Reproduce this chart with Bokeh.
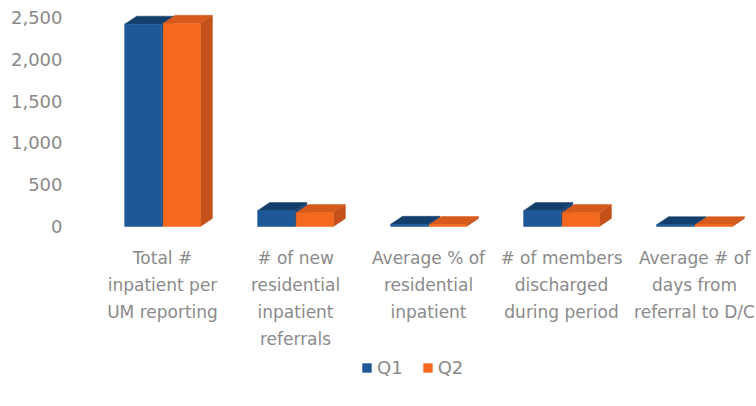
import numpy as np
from bokeh.plotting import figure
from bokeh.models import (Range1d, FixedTicker, Legend, LegendItem,
                          ColumnDataSource, NumeralTickFormatter)
from bokeh.embed import file_html
from bokeh.resources import INLINE

# ---------------- data ----------------
categories = [
    "Total #\ninpatient per\nUM reporting",
    "# of new\nresidential\ninpatient\nreferrals",
    "Average % of\nresidential\ninpatient",
    "# of members\ndischarged\nduring period",
    "Average # of\ndays from\nreferral to D/C",
]
series_names = ["Q1", "Q2"]
q1_values = [2420, 190, 26, 190, 22]
q2_values = [2430, 166, 24, 166, 22]
y_ticks = [0, 500, 1000, 1500, 2000, 2500]

# ---------------- style ----------------
FONT = "DejaVu Sans"
TXT = "#8a8a8a"
front_cols = ["#1F5896", "#F5691E"]
top_cols = ["#143F6C", "#D65A1C"]
side_cols = ["#17467A", "#C4511A"]
bar_w = 0.28
gap = 0.01
depth_x = 0.09
depth_y = 96

# frame reaches down to the bottom so the category labels and the legend
# can sit inside it; the value axis only shows 0..2500
p = figure(width=756, height=406, output_backend="svg", toolbar_location=None,
           x_range=Range1d(-0.692, 4.466), y_range=Range1d(-2081, 2560),
           min_border_left=70, min_border_right=0, min_border_top=12,
           min_border_bottom=6)
p.outline_line_color = None
p.grid.visible = False
p.background_fill_color = "white"
p.border_fill_color = "white"

x = np.arange(len(categories))
front_renderers = []
for i, vals in enumerate([q1_values, q2_values]):
    v = np.array(vals, dtype=float)
    left = x - bar_w - gap / 2 if i == 0 else x + gap / 2
    right = left + bar_w
    side_src = ColumnDataSource(dict(
        xs=[[r, r + depth_x, r + depth_x, r] for r in right],
        ys=[[0, depth_y, h + depth_y, h] for h in v]))
    top_src = ColumnDataSource(dict(
        xs=[[l, r, r + depth_x, l + depth_x] for l, r in zip(left, right)],
        ys=[[h, h, h + depth_y, h + depth_y] for h in v]))
    p.patches("xs", "ys", source=side_src, fill_color=side_cols[i],
              line_color=side_cols[i], line_width=0.5)
    p.patches("xs", "ys", source=top_src, fill_color=top_cols[i],
              line_color=top_cols[i], line_width=0.5)
    fr = p.quad(left=left, right=right, bottom=0, top=v,
                fill_color=front_cols[i], line_color=front_cols[i], line_width=0.5)
    front_renderers.append(fr)

# axes
p.xaxis.fixed_location = 0
p.xaxis.ticker = FixedTicker(ticks=list(x))
p.xaxis.major_label_overrides = {int(i): c for i, c in zip(x, categories)}
p.yaxis.ticker = FixedTicker(ticks=y_ticks)
p.yaxis.formatter = NumeralTickFormatter(format="0,0")
for ax in (p.xaxis, p.yaxis):
    ax.axis_line_color = None
    ax.major_tick_line_color = None
    ax.minor_tick_line_color = None
    ax.major_label_text_font = FONT
    ax.major_label_text_color = TXT
p.yaxis.major_label_text_font_size = "18px"
p.xaxis.major_label_text_font_size = "17px"
p.yaxis.major_label_standoff = 2
p.xaxis.major_label_standoff = 15
p.xaxis.major_label_text_line_height = 1.35

legend = Legend(items=[LegendItem(label=n, renderers=[r])
                       for n, r in zip(series_names, front_renderers)],
                orientation="horizontal", location=(291, 22),
                glyph_width=11, glyph_height=11, label_text_font=FONT,
                label_text_font_size="18px", label_text_color=TXT,
                border_line_color=None, background_fill_alpha=0,
                spacing=19, label_standoff=5, padding=0, margin=0)
p.add_layout(legend, "center")

open("out.html", "w").write(file_html(p, INLINE))
